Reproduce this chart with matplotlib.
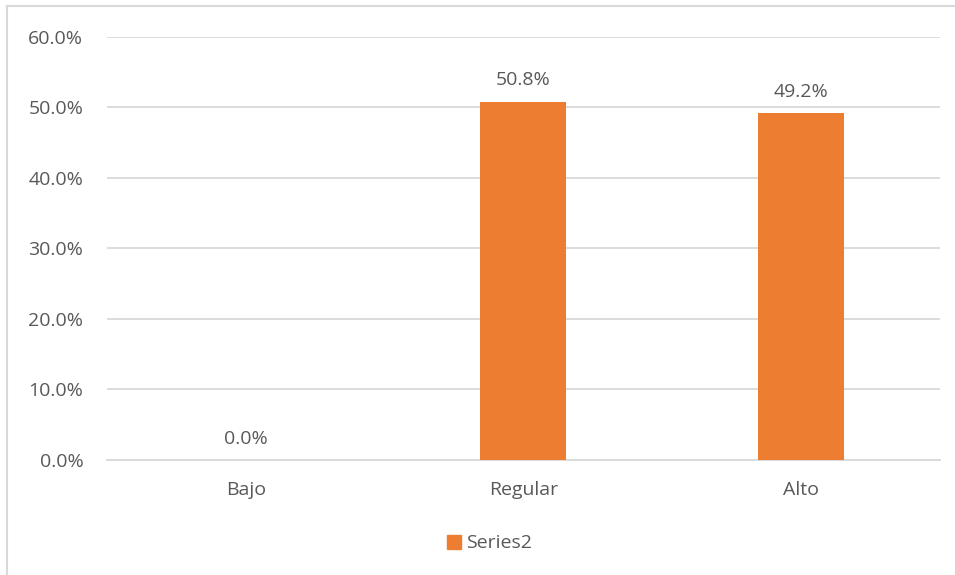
import matplotlib
matplotlib.use('Agg')
from matplotlib import pyplot as plt
from matplotlib.lines import Line2D
from matplotlib.patches import Patch
import numpy as np

# chart data
categories = ['Bajo', 'Regular', 'Alto']
values = [0.0, 50.8, 49.2]
yticks = [0, 10, 20, 30, 40, 50, 60]

textColor = '#595959'
gridColor = '#d9d9d9'
barColor = '#ed7d31'
fs = 14

plt.rcParams['font.family'] = ['Open Sans', 'DejaVu Sans']

fig = plt.figure(figsize=(9.55, 5.75), dpi=100)
ax = fig.add_axes([0.112, 0.2, 0.872, 0.7357])

x = np.arange(len(categories))
ax.bar(x, values, width=0.31, color=barColor, zorder=3)

# value labels above bars
for xi, v in zip(x, values):
    ax.annotate('%.1f%%' % v, (xi, v), xytext=(0, 9), textcoords='offset points',
                ha='center', va='bottom', fontsize=fs, color=textColor)

ax.set_xlim(-0.5, len(categories) - 0.5)
ax.set_ylim(0, 60)
ax.set_yticks(yticks)
ax.set_yticklabels(['%.1f%%' % t for t in yticks])
ax.set_xticks(x)
ax.set_xticklabels(categories)
ax.tick_params(axis='both', length=0, labelsize=fs, labelcolor=textColor)
ax.tick_params(axis='y', pad=17)
ax.tick_params(axis='x', pad=15)
ax.yaxis.grid(True, color=gridColor, linewidth=1.3, zorder=0)
for s in ['top', 'right', 'left']:
    ax.spines[s].set_visible(False)
ax.spines['bottom'].set_color(gridColor)
ax.spines['bottom'].set_linewidth(1.3)

# legend
fig.legend(handles=[Patch(color=barColor, label='Series2')], loc='center',
           bbox_to_anchor=(0.513, 0.055), frameon=False, fontsize=fs,
           labelcolor=textColor, handlelength=0.72, handleheight=0.72,
           handletextpad=0.25)

# outer chart frame (left and top edges only visible)
fig.add_artist(Line2D([0.0075, 0.0075], [0, 0.99], color=gridColor, linewidth=1.5,
                      transform=fig.transFigure))
fig.add_artist(Line2D([0.0075, 1.0], [0.99, 0.99], color=gridColor, linewidth=1.5,
                      transform=fig.transFigure))

fig.savefig('out.png', dpi=100)
